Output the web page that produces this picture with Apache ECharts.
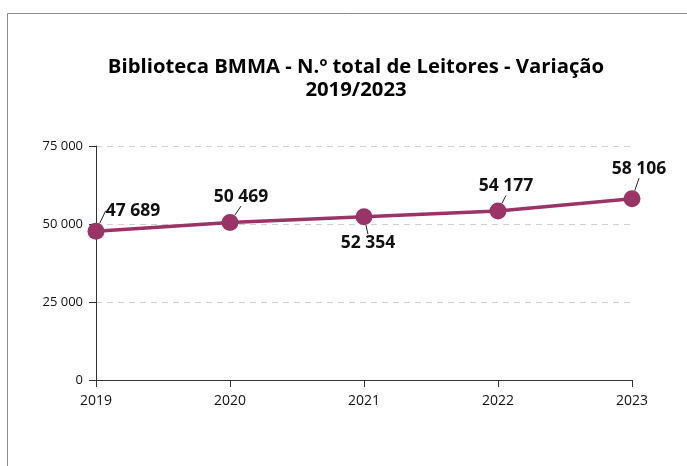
<!DOCTYPE html>
<html>
<head>
<meta charset="utf-8">
<script src="https://cdn.jsdelivr.net/npm/echarts@6/dist/echarts.min.js"></script>
<style>
html,body{margin:0;padding:0;background:#fff;}
#chart{width:687px;height:466px;}
</style>
</head>
<body>
<div id="chart"></div>
<script>
const titleText = 'Biblioteca BMMA - N.º total de Leitores - Variação\n2019/2023';
const categories = ['2019', '2020', '2021', '2022', '2023'];
const leitores = [47689, 50469, 52354, 54177, 58106];
const yTicks = { min: 0, max: 75000, interval: 25000 };

// label offsets (layout only)
const labelOffsets = [[37, 2], [11, -3], [4, 49], [8, -2], [7, -7]];

function fmt(v) {
  return String(v).replace(/\B(?=(\d{3})+(?!\d))/g, ' ');
}

const chart = echarts.init(document.getElementById('chart'));
chart.setOption({
  animation: false,
  backgroundColor: '#fff',
  graphic: [{
    type: 'rect',
    shape: { x: 7.5, y: 13.5, width: 720, height: 500 },
    style: { fill: 'none', stroke: '#8a8a8a', lineWidth: 1 },
    silent: true
  }],
  title: {
    text: titleText,
    left: 351,
    textAlign: 'center',
    top: 51,
    textStyle: {
      fontFamily: 'Open Sans',
      fontWeight: 'bold',
      fontSize: 20.3,
      lineHeight: 23,
      color: '#000'
    }
  },
  grid: { left: 96, right: 55, top: 146, bottom: 86 },
  xAxis: {
    type: 'category',
    data: categories,
    boundaryGap: false,
    axisLine: { lineStyle: { color: '#333', width: 1 } },
    axisTick: { show: true, alignWithLabel: true, length: 7, lineStyle: { color: '#333' } },
    axisLabel: { fontFamily: 'Open Sans', fontSize: 14, color: '#111', margin: 14 },
    splitLine: { show: false }
  },
  yAxis: {
    type: 'value',
    min: yTicks.min,
    max: yTicks.max,
    interval: yTicks.interval,
    axisLine: { show: true, lineStyle: { color: '#333', width: 1 } },
    axisTick: { show: true, length: 7, lineStyle: { color: '#333' } },
    axisLabel: {
      fontFamily: 'Open Sans', fontSize: 13, color: '#111', margin: 13,
      formatter: v => fmt(v)
    },
    splitLine: { show: true, lineStyle: { color: '#cfcfcf', type: [6, 5], width: 1 } }
  },
  series: [{
    type: 'line',
    data: leitores,
    symbol: 'circle',
    symbolSize: 17,
    itemStyle: { color: '#9b3466' },
    lineStyle: { color: '#9b3466', width: 3.5 },
    label: {
      show: true,
      position: 'top',
      distance: 5,
      fontFamily: 'Open Sans',
      fontWeight: 'bold',
      fontSize: 17.5,
      color: '#111',
      formatter: p => fmt(p.value)
    },
    labelLine: { show: true, lineStyle: { color: '#222', width: 1 } },
    labelLayout: p => ({ dx: labelOffsets[p.dataIndex][0], dy: labelOffsets[p.dataIndex][1] })
  }]
});
</script>
</body>
</html>
